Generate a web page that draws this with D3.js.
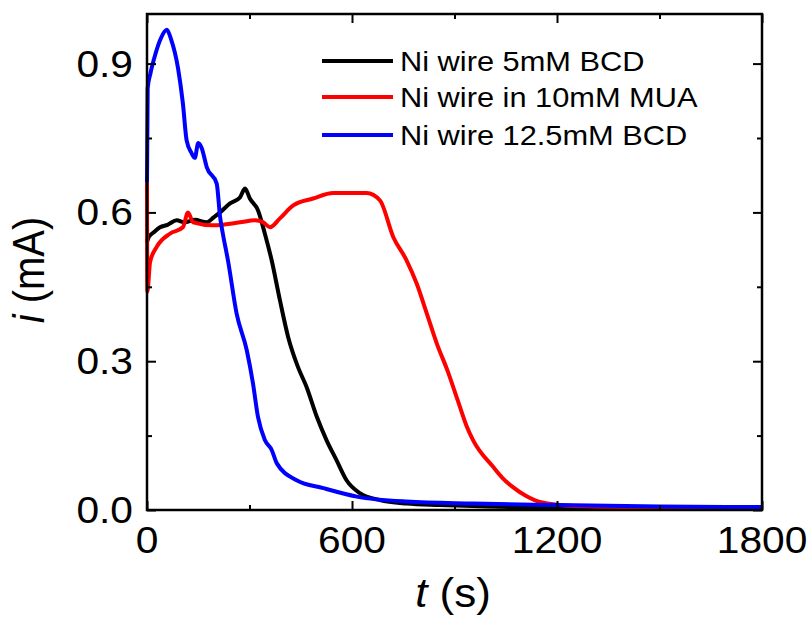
<!DOCTYPE html>
<html>
<head>
<meta charset="utf-8">
<script src="https://cdn.jsdelivr.net/npm/d3@7"></script>
<style>
  body { margin: 0; background: #fff; }
  text { font-family: "Liberation Sans", Arial, sans-serif; fill: #000; }
</style>
</head>
<body>
<div id="chart"></div>
<script>
// time (s) and current (mA)
let tBlack = [0, 5, 20, 38, 60, 87, 110, 140, 175, 195, 214, 243, 272, 287, 301, 325, 345, 365, 389, 413, 442, 467, 497, 526, 555, 584, 623, 682, 760, 857, 1000, 1200, 1800]
let iBlack = [0.54, 0.55, 0.56, 0.57, 0.575, 0.584, 0.58, 0.585, 0.58, 0.59, 0.60, 0.618, 0.63, 0.648, 0.628, 0.604, 0.557, 0.503, 0.423, 0.349, 0.288, 0.248, 0.188, 0.14, 0.10, 0.06, 0.034, 0.02, 0.013, 0.01, 0.007, 0.005, 0.004]

let tRed = [0, 1, 9, 28, 67, 105, 120, 135, 193, 272, 316, 340, 360, 389, 428, 486, 545, 643, 682, 721, 760, 789, 819, 848, 880, 910, 935, 955, 1013, 1040, 1071, 1110, 1150, 1250, 1400, 1800]
let iRed = [0.66, 0.44, 0.50, 0.53, 0.557, 0.57, 0.60, 0.58, 0.574, 0.58, 0.584, 0.58, 0.57, 0.588, 0.614, 0.628, 0.639, 0.639, 0.624, 0.55, 0.503, 0.457, 0.396, 0.336, 0.28, 0.22, 0.17, 0.14, 0.087, 0.065, 0.046, 0.028, 0.016, 0.008, 0.006, 0.005]

let tBlue = [0, 2, 10, 25, 40, 58, 70, 91, 105, 116, 130, 140, 150, 160, 175, 204, 214, 222, 237, 262, 292, 310, 325, 345, 365, 380, 438, 516, 614, 760, 955, 1200, 1500, 1800]
let iBlue = [0.66, 0.85, 0.88, 0.92, 0.95, 0.968, 0.95, 0.89, 0.82, 0.745, 0.72, 0.71, 0.74, 0.73, 0.691, 0.658, 0.59, 0.557, 0.503, 0.397, 0.322, 0.256, 0.187, 0.141, 0.121, 0.094, 0.06, 0.044, 0.027, 0.017, 0.013, 0.01, 0.007, 0.006]

let seriesNames = ["Ni wire 5mM BCD", "Ni wire in 10mM MUA", "Ni wire 12.5mM BCD"]
let seriesColors = ["#000000", "#ff0000", "#0000ff"]

let xMajor = [0, 600, 1200, 1800]
let xMinor = [300, 900, 1500]
let yMajor = [0.0, 0.3, 0.6, 0.9]
let yMinor = [0.15, 0.45, 0.75]

let W = 812, H = 617
let plotLeft = 147, plotRight = 762, plotTop = 14, plotBottom = 510
let stretch = 1.1

let svg = d3.select("#chart").append("svg")
    .attr("width", W)
    .attr("height", H)

let x = d3.scaleLinear().domain([0, 1800]).range([plotLeft, plotRight])
let y = d3.scaleLinear().domain([0, 1.0]).range([plotBottom, plotTop])

// text that looks a bit wider than normal
function addText(px, py, str, size, anchor, sx) {
    let g = svg.append("g").attr("transform", `translate(${px},${py}) scale(${sx || stretch},1)`)
    return g.append("text")
        .attr("font-size", size)
        .attr("text-anchor", anchor)
        .text(str)
}

// curves
let line = d3.line().x(d => x(d[0])).y(d => y(d[1])).curve(d3.curveMonotoneX)
let series = [d3.zip(tBlack, iBlack), d3.zip(tRed, iRed), d3.zip(tBlue, iBlue)]
series.map((s, k) => {
    svg.append("path")
        .datum(s)
        .attr("d", line)
        .attr("fill", "none")
        .attr("stroke", seriesColors[k])
        .attr("stroke-width", 4)
        .attr("stroke-linejoin", "round")
})

// ticks, all pointing in
let tickStyle = g => g.call(g => g.select(".domain").remove())
    .call(g => g.selectAll("line").attr("stroke", "#000").attr("stroke-width", 2))
svg.append("g").attr("transform", `translate(0,${plotBottom})`)
    .call(d3.axisBottom(x).tickValues(xMajor).tickSize(-9).tickFormat("")).call(tickStyle)
svg.append("g").attr("transform", `translate(0,${plotBottom})`)
    .call(d3.axisBottom(x).tickValues(xMinor).tickSize(-5).tickFormat("")).call(tickStyle)
svg.append("g").attr("transform", `translate(0,${plotTop})`)
    .call(d3.axisTop(x).tickValues(xMajor).tickSize(-9).tickFormat("")).call(tickStyle)
svg.append("g").attr("transform", `translate(0,${plotTop})`)
    .call(d3.axisTop(x).tickValues(xMinor).tickSize(-5).tickFormat("")).call(tickStyle)
svg.append("g").attr("transform", `translate(${plotLeft},0)`)
    .call(d3.axisLeft(y).tickValues(yMajor).tickSize(-9).tickFormat("")).call(tickStyle)
svg.append("g").attr("transform", `translate(${plotLeft},0)`)
    .call(d3.axisLeft(y).tickValues(yMinor).tickSize(-5).tickFormat("")).call(tickStyle)
svg.append("g").attr("transform", `translate(${plotRight},0)`)
    .call(d3.axisRight(y).tickValues(yMajor).tickSize(-9).tickFormat("")).call(tickStyle)
svg.append("g").attr("transform", `translate(${plotRight},0)`)
    .call(d3.axisRight(y).tickValues(yMinor).tickSize(-5).tickFormat("")).call(tickStyle)

// frame
svg.append("rect")
    .attr("x", plotLeft).attr("y", plotTop)
    .attr("width", plotRight - plotLeft).attr("height", plotBottom - plotTop)
    .attr("fill", "none")
    .attr("stroke", "#000")
    .attr("stroke-width", 2.5)

// tick labels
xMajor.map(v => addText(x(v), plotBottom + 43, d3.format("d")(v), 37, "middle"))
yMajor.map(v => addText(plotLeft - 14, y(v) + 13, d3.format(".1f")(v), 37, "end"))

// axis titles
let xt = addText(453, 607, "", 40, "middle")
xt.append("tspan").attr("font-style", "italic").text("t")
xt.append("tspan").text(" (s)")

let yg = svg.append("g").attr("transform", `translate(44,270) rotate(-90) scale(1,${stretch})`)
let yt = yg.append("text").attr("font-size", 40).attr("text-anchor", "middle")
yt.append("tspan").attr("font-style", "italic").text("i")
yt.append("tspan").text(" (mA)")

// legend
let legY = [61, 97, 135]
seriesNames.map((name, k) => {
    svg.append("line")
        .attr("x1", 322).attr("x2", 393)
        .attr("y1", legY[k]).attr("y2", legY[k])
        .attr("stroke", seriesColors[k])
        .attr("stroke-width", 4)
    addText(400, legY[k] + 10, name, 27, "start", 1.14)
})
</script>
</body>
</html>
